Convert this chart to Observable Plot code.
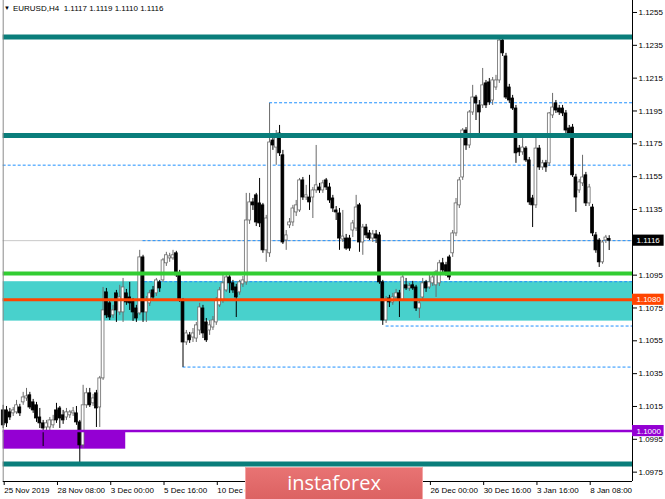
<!DOCTYPE html>
<html><head><meta charset="utf-8">
<script src="https://cdn.jsdelivr.net/npm/d3@7"></script>
<script src="https://cdn.jsdelivr.net/npm/@observablehq/plot@0.6"></script>
<style>
body{margin:0;background:#fff;}
#wrap{position:relative;width:665px;height:499px;overflow:hidden;font-family:"Liberation Sans",Arial,sans-serif;}
#wrap svg{position:absolute;left:0;top:0;}
#title{position:absolute;left:4px;top:4px;font-size:8px;color:#000;white-space:pre;z-index:2;}
#title .tri{font-size:6px;vertical-align:1px;margin-right:3px;}
#wm{position:absolute;left:245px;top:467px;width:178px;height:33px;background:linear-gradient(#e87373,#dc6262);border:1px solid #f3a6a6;box-sizing:border-box;color:#fff;font-family:"Open Sans",sans-serif;font-size:20px;text-align:center;line-height:29px;z-index:3;}
</style></head><body>
<div id="wrap"><div id="title"><span class="tri">▼</span>EURUSD,H4  1.1117 1.1119 1.1110 1.1116</div><div id="wm">instaforex</div></div>
<script>
// ---- data (EURUSD H4 candles) ----
const open = [1.10126,1.10126,1.10114,1.10108,1.10114,1.10144,1.10175,1.10199,1.10218,1.10175,1.10157,1.10083,1.10047,1.10022,1.10022,1.10035,1.10126,1.10138,1.10096,1.10083,1.10096,1.10108,1.10108,1.10053,1.09913,1.10157,1.10230,1.10169,1.10230,1.10144,
1.10321,1.10845,1.10778,1.10705,1.10839,1.10723,1.10723,1.10839,1.10814,1.10796,1.10747,1.10717,1.11058,1.10723,1.10778,1.10857,1.10839,1.10906,1.10918,1.11022,1.11052,1.11052,1.11083,1.10961,1.10796,1.10540,1.10583,1.10570,1.10564,1.10613,
1.10747,1.10662,1.10613,1.10631,1.10662,1.10766,1.10796,1.10857,1.10936,1.10900,1.10875,1.10845,1.10894,1.10906,1.11283,1.11393,1.11436,1.11387,1.11375,1.11101,1.11083,1.11770,1.11727,1.11813,1.11680,1.11161,1.11253,1.11271,1.11332,1.11344,
1.11527,1.11423,1.11423,1.11423,1.11466,1.11484,1.11466,1.11527,1.11484,1.11417,1.11344,1.11326,1.11167,1.11173,1.11173,1.11222,1.11234,1.11375,1.11149,1.11240,1.11204,1.11173,1.11198,1.11192,1.10906,1.10674,1.10808,1.10784,1.10814,1.10839,
1.10796,1.10888,1.10869,1.10888,1.10875,1.10747,1.10814,1.10906,1.10875,1.10900,1.10888,1.10900,1.11022,1.11010,1.11058,1.11083,1.11204,1.11375,1.11545,1.11831,1.11740,1.11941,1.12032,1.11984,1.11984,1.12118,1.12124,1.12014,1.12093,1.12136,
1.12379,1.12282,1.12093,1.12026,1.11965,1.11721,1.11698,1.11721,1.11649,1.11417,1.11375,1.11721,1.11606,1.11631,1.11631,1.11923,1.11996,1.11965,1.11965,1.11935,1.11843,1.11849,1.11545,1.11466,1.11509,1.11558,1.11387,1.11362,1.11192,1.11161,
1.11028,1.11161,1.1117];
const high = [1.10157,1.10150,1.10138,1.10144,1.10187,1.10163,1.10236,1.10260,1.10236,1.10193,1.10175,1.10138,1.10065,1.10065,1.10083,1.10096,1.10169,1.10150,1.10126,1.10138,1.10126,1.10144,1.10150,1.10065,1.10279,1.10260,1.10260,1.10224,1.10248,1.10333,
1.10875,1.10869,1.10796,1.10766,1.10857,1.10888,1.10930,1.10863,1.10906,1.10808,1.10766,1.11101,1.11071,1.10820,1.10857,1.10881,1.10930,1.10918,1.11052,1.11089,1.11083,1.11101,1.11095,1.10979,1.10808,1.10613,1.10601,1.10625,1.10662,1.10778,
1.10766,1.10686,1.10674,1.10698,1.10814,1.10875,1.10961,1.10949,1.10955,1.10918,1.10894,1.10918,1.10942,1.11448,1.11448,1.11417,1.11448,1.11539,1.11387,1.11314,1.11996,1.11813,1.11831,1.11862,1.11710,1.11222,1.11295,1.11375,1.11405,1.11539,
1.11545,1.11497,1.11558,1.11484,1.11740,1.11509,1.11527,1.11539,1.11509,1.11436,1.11368,1.11356,1.11344,1.11198,1.11192,1.11283,1.11436,1.11387,1.11259,1.11259,1.11222,1.11222,1.11222,1.11210,1.10918,1.10820,1.10827,1.10839,1.10863,1.10857,
1.10949,1.10930,1.10900,1.10912,1.10888,1.10796,1.10930,1.10918,1.10949,1.10955,1.10979,1.11040,1.11052,1.11028,1.11071,1.11222,1.11417,1.11545,1.11843,1.11849,1.11953,1.12106,1.12045,1.12014,1.12209,1.12136,1.12148,1.12154,1.12167,1.12398,
1.12391,1.12301,1.12112,1.12045,1.11984,1.11740,1.11782,1.11733,1.11667,1.11436,1.11788,1.11740,1.11649,1.11649,1.11941,1.12057,1.12014,1.11984,1.11984,1.11953,1.11862,1.11868,1.11564,1.11533,1.11680,1.11576,1.11503,1.11381,1.11210,1.11173,
1.11161,1.11192,1.1119];
const low = [1.10016,1.10022,1.10065,1.10089,1.10102,1.10089,1.10157,1.10181,1.10132,1.10108,1.10053,1.10016,1.09906,1.09992,1.10004,1.10016,1.10047,1.10016,1.10041,1.10065,1.10077,1.10089,1.10035,1.09804,1.09894,1.10138,1.10144,1.10150,1.10022,1.10022,
1.10309,1.10686,1.10674,1.10686,1.10662,1.10705,1.10662,1.10766,1.10735,1.10668,1.10662,1.10705,1.10662,1.10662,1.10759,1.10796,1.10820,1.10845,1.10906,1.11003,1.11028,1.11040,1.10936,1.10784,1.10388,1.10522,1.10534,1.10540,1.10540,1.10583,
1.10564,1.10540,1.10583,1.10613,1.10644,1.10753,1.10778,1.10845,1.10839,1.10839,1.10692,1.10827,1.10875,1.10888,1.11259,1.11344,1.11246,1.11240,1.11083,1.11028,1.11058,1.11710,1.11619,1.11673,1.11137,1.11101,1.11234,1.11246,1.11307,1.11332,
1.11405,1.11405,1.11344,1.11295,1.11448,1.11448,1.11448,1.11466,1.11387,1.11332,1.11283,1.11101,1.11149,1.11101,1.11095,1.11179,1.11216,1.11089,1.11071,1.11173,1.11161,1.11149,1.11143,1.10894,1.10644,1.10656,1.10753,1.10766,1.10796,1.10692,
1.10790,1.10857,1.10851,1.10857,1.10729,1.10686,1.10796,1.10845,1.10863,1.10881,1.10814,1.10881,1.10961,1.10942,1.10918,1.11058,1.11185,1.11356,1.11527,1.11710,1.11721,1.11923,1.11892,1.11813,1.11965,1.11965,1.11984,1.11984,1.12075,1.12118,
1.12282,1.12020,1.11996,1.11953,1.11631,1.11673,1.11680,1.11637,1.11375,1.11240,1.11356,1.11588,1.11588,1.11576,1.11612,1.11904,1.11935,1.11923,1.11916,1.11813,1.11794,1.11545,1.11332,1.11448,1.11490,1.11368,1.11368,1.11185,1.11083,1.10997,
1.11016,1.11143,1.1110];
const close = [1.10035,1.10047,1.10083,1.10126,1.10157,1.10108,1.10205,1.10211,1.10144,1.10126,1.10077,1.10047,1.10016,1.10047,1.10065,1.10065,1.10065,1.10077,1.10065,1.10114,1.10114,1.10120,1.10053,1.09913,1.10157,1.10230,1.10157,1.10199,1.10138,1.10321,
1.10735,1.10705,1.10692,1.10735,1.10735,1.10814,1.10875,1.10784,1.10778,1.10723,1.10686,1.11058,1.10723,1.10796,1.10839,1.10814,1.10918,1.10869,1.11040,1.11071,1.11064,1.11071,1.10949,1.10796,1.10540,1.10595,1.10553,1.10595,1.10644,1.10753,
1.10595,1.10553,1.10644,1.10674,1.10796,1.10857,1.10900,1.10936,1.10900,1.10857,1.10814,1.10906,1.10918,1.11283,1.11393,1.11375,1.11271,1.11265,1.11101,1.11295,1.11758,1.11740,1.11788,1.11692,1.11149,1.11192,1.11271,1.11356,1.11375,1.11527,
1.11423,1.11436,1.11393,1.11466,1.11497,1.11466,1.11509,1.11484,1.11405,1.11356,1.11332,1.11173,1.11185,1.11112,1.11112,1.11265,1.11362,1.11149,1.11240,1.11192,1.11173,1.11198,1.11173,1.10906,1.10674,1.10796,1.10784,1.10814,1.10839,1.10796,
1.10936,1.10869,1.10881,1.10869,1.10747,1.10778,1.10900,1.10869,1.10906,1.10936,1.10967,1.11022,1.10979,1.10961,1.10936,1.11204,1.11387,1.11527,1.11831,1.11740,1.11941,1.12032,1.11996,1.11941,1.12106,1.11984,1.12002,1.12136,1.12136,1.12379,
1.12301,1.12032,1.12014,1.11965,1.11692,1.11698,1.11727,1.11649,1.11393,1.11375,1.11721,1.11606,1.11631,1.11606,1.11935,1.11971,1.11953,1.11941,1.11935,1.11831,1.11813,1.11558,1.11423,1.11515,1.11545,1.11387,1.11484,1.11204,1.11101,1.11028,
1.11149,1.11179,1.1116];

// time-axis labels (every 16 bars); the ones hidden under the watermark are left blank
const timeLabels = ["25 Nov 2019","28 Nov 08:00","3 Dec 00:00","5 Dec 16:00","10 Dec 08:00","","","","26 Dec 00:00","30 Dec 16:00","3 Jan 16:00","8 Jan 08:00"];
const barsPerLabel = 16;
// price-axis labels shown (1.1115 is covered by the 1.1116 tag)
const priceTicks = [1.0975,1.0995,1.1015,1.1035,1.1055,1.1075,1.1095,1.1135,1.1155,1.1175,1.1195,1.1215,1.1235,1.1255];
const priceRange = [1.09693, 1.12623];
const barSlots = 189;

const tealLevels = [1.1240, 1.1180, 1.0980];
const greenLevel = [1.1096];
const orangeLevel = [1.1080];
const purpleLevel = [1.1000];
const zoneTop = 1.1091, zoneBottom = 1.1067;
const purpleBoxTop = 1.1000, purpleBoxBottom = 1.0989, purpleBoxEndBar = 36.8;
const bidPrice = 1.1116;
const dashedPrices = [1.1200, 1.1162, 1.1116, 1.1091, 1.1064, 1.1039];
const dashedFromBar = [80, 0, 42, 41, 115, 54];
const tagPrices = [1.1116, 1.1080, 1.1000];

// ---- build chart ----
const bars = open.map((o, i) => ({i, o, h: high[i], l: low[i], c: close[i], up: close[i] >= o}));
const dashed = dashedPrices.map((p, k) => ({p, from: dashedFromBar[k]}));
const tagColors = ["#000000", "#ff4500", "#9400d3"];
const tags = tagPrices.map((p, k) => ({p, bg: tagColors[k], t: p.toFixed(4)}));
const labelIdx = timeLabels.map((_, k) => k * barsPerLabel);
const tagHalf = 0.00034;

const chart = Plot.plot({
  width: 665, height: 499,
  marginLeft: 2.7, marginRight: 33, marginTop: 0, marginBottom: 18,
  style: {fontFamily: "Liberation Sans, Arial, sans-serif", fontSize: "8px", background: "transparent", color: "#000"},
  x: {domain: [0, barSlots], axis: null},
  y: {domain: priceRange, axis: null},
  marks: [
    Plot.rect([0], {x1: 0, x2: barSlots, y1: zoneBottom, y2: zoneTop, fill: "#48d1cc"}),
    Plot.rect([0], {x1: 0, x2: purpleBoxEndBar, y1: purpleBoxBottom, y2: purpleBoxTop, fill: "#9400d3"}),
    Plot.ruleY([bidPrice], {stroke: "#c8c8c8", strokeWidth: 1}),
    Plot.ruleY(dashed, {y: "p", x1: "from", x2: barSlots, stroke: "#1e90ff", strokeDasharray: "3,2", strokeWidth: 1}),
    Plot.ruleX(bars, {x: "i", y1: "l", y2: "h", stroke: d => d.up ? "#6a6a6a" : "#000000", strokeWidth: 1}),
    Plot.rect(bars, {x1: d => d.i - 0.42, x2: d => d.i + 0.42, y1: "o", y2: "c", fill: d => d.up ? "#ffffff" : "#000000", stroke: d => d.up ? "#6a6a6a" : "#000000", strokeWidth: 0.8}),
    Plot.ruleY(tealLevels, {stroke: "#0a7e7b", strokeWidth: 5}),
    Plot.ruleY(greenLevel, {stroke: "#32cd32", strokeWidth: 4}),
    Plot.ruleY(orangeLevel, {stroke: "#ff4500", strokeWidth: 3}),
    Plot.ruleY(purpleLevel, {stroke: "#9400d3", strokeWidth: 2.5}),
    Plot.ruleX([0], {stroke: "#8a8a8a"}),
    Plot.ruleX([barSlots], {stroke: "#000"}),
    Plot.ruleY([priceRange[0]], {stroke: "#000"}),
    Plot.axisY(priceTicks, {anchor: "right", tickSize: 4, tickPadding: 2, tickFormat: d => d.toFixed(4), fill: "#000", stroke: "#000"}),
    Plot.axisX(labelIdx, {anchor: "bottom", tickSize: 4, tickPadding: 2, textAnchor: "start", dx: 1, tickFormat: d => timeLabels[d / barsPerLabel], fill: "#000", stroke: "#000"}),
    Plot.rect(tags, {x1: barSlots, x2: barSlots + 9.5, y1: d => d.p - tagHalf, y2: d => d.p + tagHalf, fill: "bg"}),
    Plot.text(tags, {x: barSlots, y: "p", text: "t", dx: 4, textAnchor: "start", fill: "#fff", fontSize: 8})
  ]
});
document.getElementById("wrap").prepend(chart);
</script>
</body></html>
